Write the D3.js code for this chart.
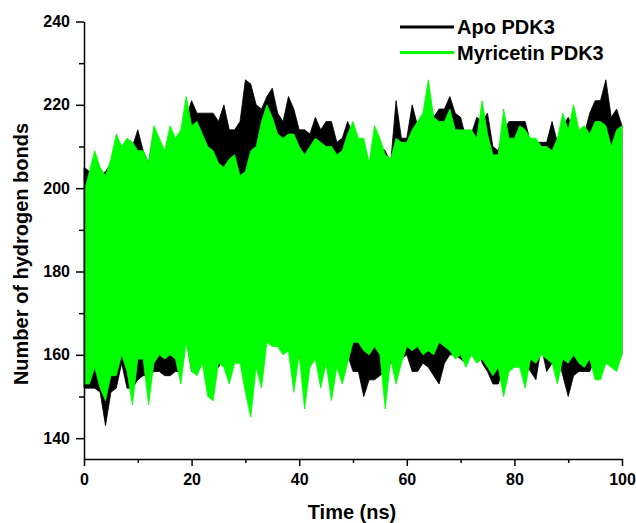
<!DOCTYPE html>
<html>
<head>
<meta charset="utf-8">
<script src="https://cdn.jsdelivr.net/npm/d3@7/dist/d3.min.js"></script>
<style>
  body { margin: 0; background: #fff; }
  svg { display: block; font-family: "Liberation Sans", Arial, sans-serif; font-weight: bold; }
</style>
</head>
<body>
<div id="chart"></div>
<script>
// time axis (ns), one sample per ns
const timeNs = d3.range(0, 101);

// upper / lower envelope of each trajectory, read per ns
const apoHigh = [205,204,205,203,204,206,211,208,210,210,
    214,209,206,214,211,208,213,211,213,217,
    221,218,218,218,218,216,220,214,214,216,
    226,225,220,219,222,224,218,216,222,219,
    214,214,213,217,214,216,216,211,212,216,
    213,211,211,205,213,210,209,206,221,212,
    212,220,215,216,222,217,219,219,222,218,
    217,212,213,217,216,218,210,209,214,216,
    216,216,216,211,211,211,211,216,211,215,
    217,214,212,213,218,221,221,226,217,219,
    215];
const apoLow = [152,152,152,151,143,151,152,158,152,152,
    154,155,155,156,156,155,155,156,156,164,
    156,157,159,155,158,157,159,160,160,159,
    160,160,160,160,164,163,163,161,162,160,
    159,160,160,160,160,160,160,160,160,160,
    156,156,150,154,154,155,156,158,159,159,
    160,156,156,158,157,155,153,158,160,160,
    159,158,160,163,158,156,153,153,157,158,
    159,159,158,156,154,162,156,158,160,155,
    150,155,156,156,156,159,160,158,158,159,
    160];
const myrHigh = [199,204,209,205,203,207,213,210,212,211,
    209,209,206,215,212,209,215,212,214,222,
    215,216,213,210,209,206,205,207,208,203,
    204,209,210,216,220,217,213,212,213,213,
    210,208,210,212,211,210,210,208,209,213,
    216,212,212,206,215,212,208,207,212,211,
    211,214,216,218,226,217,216,216,219,214,
    214,214,214,212,221,213,208,208,219,212,
    212,215,214,212,212,210,210,209,212,218,
    214,220,214,215,213,216,216,215,210,214,
    215];
const myrLow = [153,153,157,152,149,155,155,160,156,148,
    159,159,148,158,160,159,160,159,153,163,
    156,155,158,150,149,158,157,153,158,158,
    151,145,157,152,163,162,162,160,161,151,
    160,147,157,159,152,158,149,157,153,158,
    163,163,161,160,162,160,147,159,153,158,
    162,161,162,160,161,160,163,162,161,159,
    160,157,160,158,159,157,155,157,150,156,
    157,157,152,159,158,160,159,158,153,159,
    158,160,158,157,159,154,154,158,157,156,
    160];

const seriesNames = ['Apo PDK3', 'Myricetin PDK3'];
const seriesColors = ['#000000', '#00ff00'];

const xTicks = [0, 20, 40, 60, 80, 100];
const xMinor = [10, 30, 50, 70, 90];
const yTicks = [140, 160, 180, 200, 220, 240];
const yMinor = [150, 170, 190, 210, 230];

const width = 636, height = 523;
const margin = { left: 84, right: 14, top: 21.5, bottom: 64 };

const svg = d3.select('#chart').append('svg')
    .attr('width', width)
    .attr('height', height);

const xScale = d3.scaleLinear([0, 100], [margin.left, width - margin.right]);
const yScale = d3.scaleLinear([135, 240], [height - margin.bottom, margin.top]);

const series = [
    { high: apoHigh, low: apoLow },
    { high: myrHigh, low: myrLow }
];

// black first, green on top
series.forEach((s, k) => {
    const area = d3.area()
        .x(i => xScale(timeNs[i]))
        .y0(i => yScale(s.low[i]))
        .y1(i => yScale(s.high[i]));
    svg.append('path')
        .datum(d3.range(timeNs.length))
        .attr('d', area)
        .attr('fill', seriesColors[k])
        .attr('stroke', seriesColors[k])
        .attr('stroke-width', 0.8)
        .attr('stroke-linejoin', 'miter');
});

// axes
svg.append('g')
    .attr('transform', `translate(0, ${height - margin.bottom})`)
    .call(d3.axisBottom(xScale).tickValues(xTicks).tickSize(7).tickSizeOuter(0).tickPadding(8));
svg.append('g')
    .attr('transform', `translate(0, ${height - margin.bottom})`)
    .call(d3.axisBottom(xScale).tickValues(xMinor).tickSize(4).tickFormat(''))
    .select('.domain').remove();

svg.append('g')
    .attr('transform', `translate(${margin.left}, 0)`)
    .call(d3.axisLeft(yScale).tickValues(yTicks).tickSize(8).tickSizeOuter(0).tickPadding(6));
svg.append('g')
    .attr('transform', `translate(${margin.left}, 0)`)
    .call(d3.axisLeft(yScale).tickValues(yMinor).tickSize(5).tickFormat(''))
    .select('.domain').remove();

svg.selectAll('.domain, .tick line')
    .attr('stroke', '#000')
    .attr('stroke-width', 1.5);
svg.selectAll('.tick text')
    .attr('fill', '#000')
    .style('font-size', '16px')
    .style('font-weight', 'bold');

// axis titles
svg.append('text')
    .attr('x', 352)
    .attr('y', 519)
    .attr('text-anchor', 'middle')
    .style('font-size', '20px')
    .text('Time (ns)');

svg.append('text')
    .attr('transform', 'translate(28, 254) rotate(-90)')
    .attr('text-anchor', 'middle')
    .style('font-size', '20px')
    .text('Number of hydrogen bonds');

// legend
const legend = svg.append('g').attr('transform', 'translate(400, 27)');
seriesNames.forEach((name, k) => {
    const row = legend.append('g').attr('transform', `translate(0, ${k * 25.5})`);
    row.append('line')
        .attr('x1', 0).attr('x2', 54)
        .attr('y1', 0).attr('y2', 0)
        .attr('stroke', seriesColors[k])
        .attr('stroke-width', 3.2);
    row.append('text')
        .attr('x', 57)
        .attr('y', 7)
        .style('font-size', '20px')
        .text(name);
});
</script>
</body>
</html>
